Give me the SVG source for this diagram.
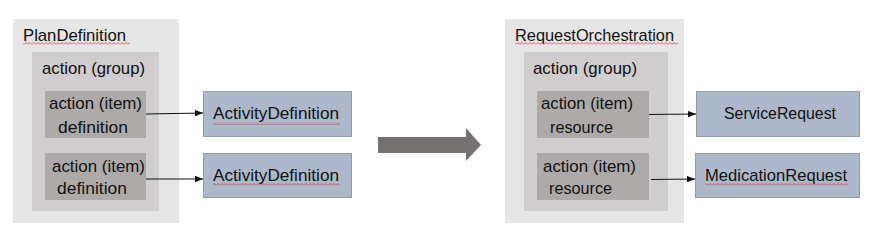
<svg xmlns="http://www.w3.org/2000/svg" width="876" height="235" viewBox="0 0 876 235">
<style>
text{font-family:"Liberation Sans",Arial,sans-serif;font-size:17px;fill:#111}
.outer{fill:#e6e6e6}
.group{fill:#d0cecf}
.item{fill:#aeaaa9}
.target{fill:#adb9ca;stroke:#9a9a9a;stroke-width:1}
.conn{stroke:#111;stroke-width:1;fill:none}
.squig{fill:url(#sq)}
</style>
<defs>
<marker id="ah" viewBox="0 0 10 8" refX="10" refY="4" markerWidth="8" markerHeight="6.4" markerUnits="userSpaceOnUse" orient="auto">
<path d="M0,0 L10,4 L0,8 Z" fill="#111"/>
</marker>
<pattern id="sq" x="0" y="0" width="4" height="3" patternUnits="userSpaceOnUse">
<path d="M0,2.5 L2,0.5 L4,2.5" fill="none" stroke="#e03030" stroke-width="0.8"/>
</pattern>
</defs>

<g id="plan-definition">
<rect class="outer" x="13" y="19" width="166" height="204"/>
<text x="23" y="41" textLength="103" lengthAdjust="spacingAndGlyphs">PlanDefinition</text>
<rect class="squig" x="23" y="42" width="107" height="3"/>
</g>
<g id="plan-group">
<rect class="group" x="32" y="52" width="127" height="159"/>
<text x="42" y="74" textLength="103" lengthAdjust="spacingAndGlyphs">action (group)</text>
</g>
<g id="plan-item-1">
<rect class="item" x="45" y="91" width="101" height="47"/>
<text x="49" y="109" textLength="93" lengthAdjust="spacingAndGlyphs">action (item)</text>
<text x="58" y="133" textLength="70" lengthAdjust="spacingAndGlyphs">definition</text>
</g>
<g id="plan-item-2">
<rect class="item" x="45" y="153" width="101" height="47"/>
<text x="52" y="172" textLength="93" lengthAdjust="spacingAndGlyphs">action (item)</text>
<text x="57" y="194" textLength="70" lengthAdjust="spacingAndGlyphs">definition</text>
</g>
<g id="activity-definition-1">
<rect class="target" x="203.5" y="91.5" width="148" height="45"/>
<text x="213" y="119" textLength="126" lengthAdjust="spacingAndGlyphs">ActivityDefinition</text>
<rect class="squig" x="213" y="122" width="127" height="3"/>
</g>
<g id="activity-definition-2">
<rect class="target" x="203.5" y="153.5" width="148" height="44"/>
<text x="213" y="181" textLength="126" lengthAdjust="spacingAndGlyphs">ActivityDefinition</text>
<rect class="squig" x="213" y="183" width="127" height="3"/>
</g>

<g id="transform-arrow">
<path d="M378,137 L466,137 L466,128 L481,145 L466,161 L466,153 L378,153 Z" fill="#767171"/>
</g>

<g id="request-orchestration">
<rect class="outer" x="505" y="19" width="179" height="204"/>
<text x="515" y="41" textLength="159" lengthAdjust="spacingAndGlyphs">RequestOrchestration</text>
<rect class="squig" x="515" y="42" width="163" height="3"/>
</g>
<g id="ro-group">
<rect class="group" x="524" y="52" width="144" height="159"/>
<text x="533" y="74" textLength="104" lengthAdjust="spacingAndGlyphs">action (group)</text>
</g>
<g id="ro-item-1">
<rect class="item" x="537" y="91" width="112" height="47"/>
<text x="541" y="109" textLength="92" lengthAdjust="spacingAndGlyphs">action (item)</text>
<text x="550" y="133" textLength="63" lengthAdjust="spacingAndGlyphs">resource</text>
</g>
<g id="ro-item-2">
<rect class="item" x="537" y="153" width="112" height="47"/>
<text x="543" y="172" textLength="93" lengthAdjust="spacingAndGlyphs">action (item)</text>
<text x="549" y="194" textLength="63" lengthAdjust="spacingAndGlyphs">resource</text>
</g>
<g id="service-request">
<rect class="target" x="696.5" y="91.5" width="163" height="45"/>
<text x="724" y="119" textLength="112" lengthAdjust="spacingAndGlyphs">ServiceRequest</text>
</g>
<g id="medication-request">
<rect class="target" x="695.5" y="153.5" width="164" height="44"/>
<text x="705" y="181" textLength="142" lengthAdjust="spacingAndGlyphs">MedicationRequest</text>
<rect class="squig" x="705" y="183" width="143" height="3"/>
</g>

<g id="connectors">
<line class="conn" x1="146" y1="114" x2="203" y2="113" marker-end="url(#ah)"/>
<line class="conn" x1="146" y1="179" x2="203" y2="179" marker-end="url(#ah)"/>
<line class="conn" x1="649" y1="114.5" x2="696" y2="114" marker-end="url(#ah)"/>
<line class="conn" x1="651" y1="179.5" x2="695" y2="179" marker-end="url(#ah)"/>
</g>
</svg>
